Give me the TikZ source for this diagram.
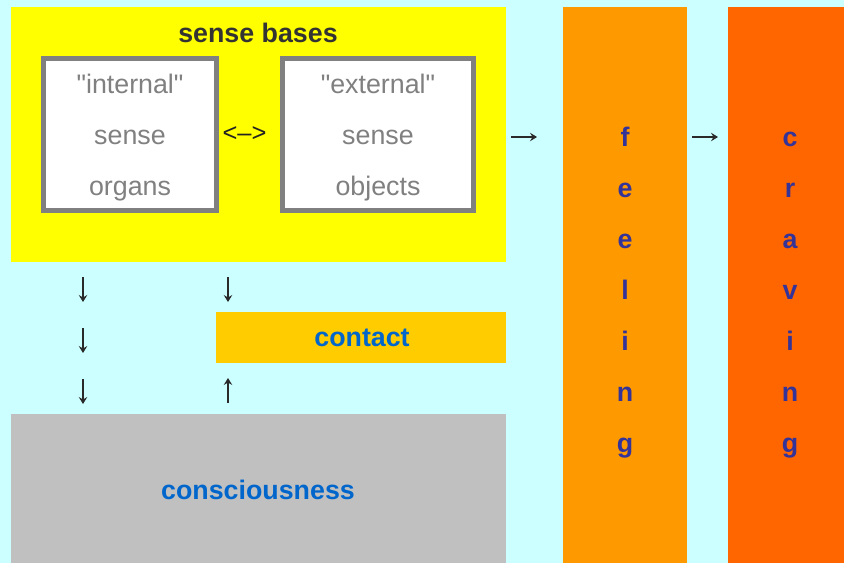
\documentclass[tikz,border=0pt]{standalone}
\usepackage{fontspec}
\setmainfont{Liberation Sans}
\newfontfamily\rawfont{Liberation Sans}[Ligatures=TeXOff]
\usetikzlibrary{arrows.meta}
\definecolor{bgcyan}{HTML}{CCFFFF}
\definecolor{senseyellow}{HTML}{FFFF00}
\definecolor{boxgray}{HTML}{808080}
\definecolor{contactgold}{HTML}{FFCC00}
\definecolor{conscgray}{HTML}{C0C0C0}
\definecolor{feelorange}{HTML}{FF9900}
\definecolor{craveorange}{HTML}{FF6600}
\definecolor{darktext}{HTML}{333333}
\definecolor{symboltext}{HTML}{222222}
\definecolor{bluetext}{HTML}{0066CC}
\definecolor{lettertext}{HTML}{333399}
\definecolor{arrowtext}{HTML}{2A2A2A}
\tikzset{
  panel/.style={anchor=north west, inner sep=0pt, outer sep=0pt, draw=none},
  organbox/.style={draw=boxgray, line width=5pt, fill=white, inner sep=0pt, outer sep=0pt,
    minimum width=173pt, minimum height=152pt},
  organtext/.style={text=boxgray, align=center, inner sep=0pt,
    font=\rawfont\fontsize{26.8}{51}\selectfont},
  boldlabel/.style={font=\fontsize{26.8}{30}\selectfont\bfseries, inner sep=0pt},
  letter/.style={font=\fontsize{26.8}{30}\selectfont\bfseries, text=lettertext, inner sep=0pt, anchor=base},
  flowarrow/.style={draw=arrowtext, line width=1.4pt, -{Stealth[length=7pt,width=8.5pt,inset=2.5pt]}}
}
\begin{document}
\begin{tikzpicture}[x=1pt,y=-1pt]
\fill[bgcyan] (0,0) rectangle (844,563);
\useasboundingbox (0,0) rectangle (844,563);
% panels
\node[panel, fill=senseyellow, minimum width=495pt, minimum height=255pt] (bases) at (11,7) {};
\node[panel, fill=contactgold, minimum width=290pt, minimum height=51pt] (contactbox) at (216,312) {};
\node[panel, fill=conscgray, minimum width=495pt, minimum height=149pt] (consbox) at (11,414) {};
\node[panel, fill=feelorange, minimum width=124pt, minimum height=556pt] (feelbox) at (563,7) {};
\node[panel, fill=craveorange, minimum width=116pt, minimum height=556pt] (cravebox) at (728,7) {};
% texts
\node[boldlabel, text=darktext] (basestitle) at (258,33) {sense bases};
\node[organbox] (organs) at (130,134.5) {};
\node[organbox, minimum width=191pt] (objects) at (378,134.5) {};
\node[organtext] (organstext) at ([yshift=-3pt]organs.center) {"internal"\\sense\\organs};
\node[organtext] (objectstext) at ([yshift=-3pt]objects.center) {"external"\\sense\\objects};
\node[font=\fontsize{25.5}{30}\selectfont, text=symboltext, inner sep=0pt] (bothways) at (244.5,134) {<\textendash>};
\node[boldlabel, text=bluetext] (contact) at (362,338) {contact};
\node[boldlabel, text=bluetext] (conscious) at (258,490) {consciousness};
% arrow end points
\coordinate (d1s) at (83,277); \coordinate (d1e) at (83,302);
\coordinate (d2s) at (83,328); \coordinate (d2e) at (83,353);
\coordinate (d3s) at (83,379); \coordinate (d3e) at (83,404);
\coordinate (d4s) at (228,277); \coordinate (d4e) at (228,302);
\coordinate (u1s) at (228,403); \coordinate (u1e) at (228,378);
\coordinate (h1s) at (511,137); \coordinate (h1e) at (537,137);
\coordinate (h2s) at (692,137); \coordinate (h2e) at (718,137);
\draw[flowarrow] (d1s) -- (d1e);
\draw[flowarrow] (d2s) -- (d2e);
\draw[flowarrow] (d3s) -- (d3e);
\draw[flowarrow] (d4s) -- (d4e);
\draw[flowarrow] (u1s) -- (u1e);
\draw[flowarrow] (h1s) -- (h1e);
\draw[flowarrow] (h2s) -- (h2e);
% vertical words
\foreach \ch [count=\i from 0] in {f,e,e,l,i,n,g}
  \node[letter] (feel\i) at (625,146+51*\i) {\ch};
\foreach \ch [count=\i from 0] in {c,r,a,v,i,n,g}
  \node[letter] (crave\i) at (790,146+51*\i) {\ch};
\end{tikzpicture}
\end{document}
